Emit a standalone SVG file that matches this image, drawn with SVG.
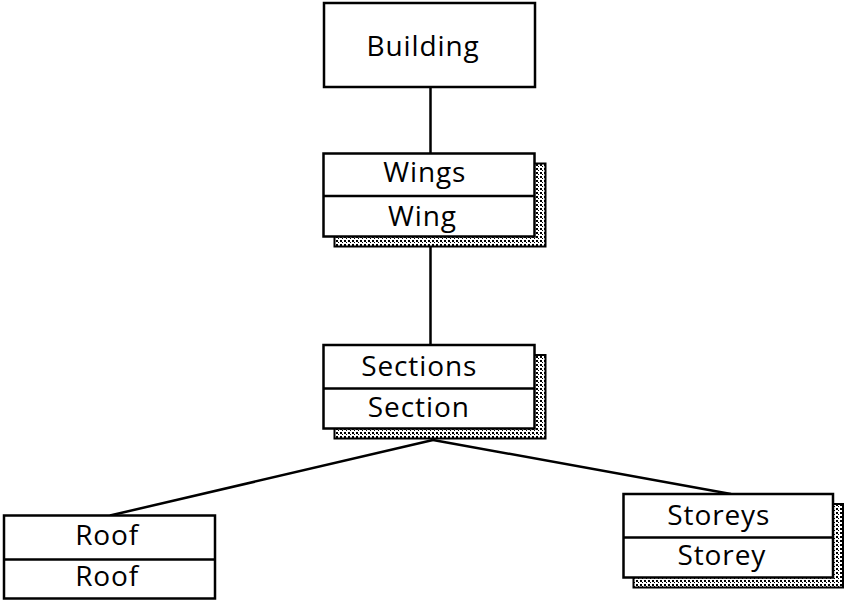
<svg xmlns="http://www.w3.org/2000/svg" width="845" height="600" viewBox="0 0 845 600">
  <defs>
    <!-- sparse dot texture used for the stacked-collection shadow -->
    <pattern id="dots" width="4" height="4" patternUnits="userSpaceOnUse">
      <rect width="4" height="4" fill="#ffffff"/>
      <rect x="0" y="0" width="2" height="2" fill="#000000"/>
      <rect x="2" y="2" width="1" height="1" fill="#000000"/>
    </pattern>
  </defs>
  <style>
    .box { fill: #ffffff; stroke: #000000; stroke-width: 2.5; }
    .shadow { fill: url(#dots); stroke: #000000; stroke-width: 2; }
    .div { stroke: #000000; stroke-width: 2.5; }
    .lbl { font-family: "Open Sans", "Noto Sans", sans-serif; font-size: 28px; letter-spacing: 0.9px; fill: #000000; text-anchor: middle; }
    .link { stroke: #000000; stroke-width: 2.5; fill: none; }
  </style>

  <rect width="845" height="600" fill="#ffffff"/>

  <g id="connectors">
    <line class="link" x1="430.5" y1="87" x2="430.5" y2="153.5"/>
    <line class="link" x1="430.5" y1="246.5" x2="430.5" y2="345"/>
    <line class="link" x1="433" y1="440" x2="110" y2="515.5"/>
    <line class="link" x1="433" y1="440" x2="731" y2="494"/>
  </g>

  <g id="building">
    <rect class="box" x="324" y="3" width="211" height="84"/>
    <text class="lbl" x="423" y="56">Building</text>
  </g>

  <g id="wings">
    <rect class="shadow" x="334.5" y="163.5" width="211" height="83"/>
    <rect class="box" x="323.5" y="153.5" width="211" height="83"/>
    <line class="div" x1="323.5" y1="196" x2="534.5" y2="196"/>
    <text class="lbl" x="424.8" y="182">Wings</text>
    <text class="lbl" x="422.5" y="226">Wing</text>
  </g>

  <g id="sections">
    <rect class="shadow" x="334.5" y="355" width="211" height="83.5"/>
    <rect class="box" x="323.5" y="345" width="211" height="83.5"/>
    <line class="div" x1="323.5" y1="388.5" x2="534.5" y2="388.5"/>
    <text class="lbl" x="419.2" y="376">Sections</text>
    <text class="lbl" x="418.8" y="417">Section</text>
  </g>

  <g id="roof">
    <rect class="box" x="4" y="515.5" width="211" height="83"/>
    <line class="div" x1="4" y1="559.5" x2="215" y2="559.5"/>
    <text class="lbl" x="107.2" y="545">Roof</text>
    <text class="lbl" x="107.2" y="586">Roof</text>
  </g>

  <g id="storeys">
    <rect class="shadow" x="633.5" y="504" width="209.5" height="83.5"/>
    <rect class="box" x="623.5" y="494" width="209.5" height="83.5"/>
    <line class="div" x1="623.5" y1="537.5" x2="833" y2="537.5"/>
    <text class="lbl" x="718.8" y="525">Storeys</text>
    <text class="lbl" x="721.8" y="565">Storey</text>
  </g>
</svg>
